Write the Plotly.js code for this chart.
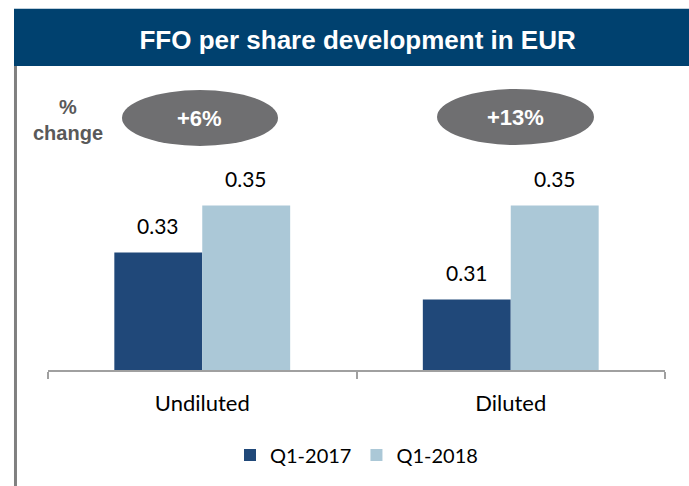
<!DOCTYPE html>
<html>
<head>
<meta charset="utf-8">
<script src="https://cdn.plot.ly/plotly-3.0.1.min.js"></script>
<style>html,body{margin:0;padding:0;background:#fff;}#chart{width:689px;height:486px;}</style>
</head>
<body>
<div id="chart"></div>
<script>
var categories = ["Undiluted", "Diluted"];
var seriesNames = ["Q1-2017", "Q1-2018"];
var q1_2017 = [0.33, 0.31];
var q1_2018 = [0.35, 0.35];
var changeLabels = ["+6%", "+13%"];
var titleText = "FFO per share development in EUR";
var changeTitle = "%<br>change";

var colors = ["#204879", "#abc8d7"];
var fontFamily = "Lato, 'Open Sans', sans-serif";
var labelFont = {family: fontFamily, size: 21, color: "#000"};

var traces = [
  {type: "bar", name: seriesNames[0], x: categories, y: q1_2017, marker: {color: colors[0]}, hoverinfo: "none"},
  {type: "bar", name: seriesNames[1], x: categories, y: q1_2018, marker: {color: colors[1]}, hoverinfo: "none"}
];

var annotations = [];
var series = [q1_2017, q1_2018];
var shifts = [-44, 44];
series.forEach(function (vals, s) {
  vals.forEach(function (v, i) {
    annotations.push({
      xref: "x", yref: "y", x: categories[i], y: v, xshift: shifts[s], yshift: 13,
      text: v.toFixed(2), showarrow: false, yanchor: "bottom", xanchor: "center",
      font: labelFont
    });
  });
});

var ellipseX = [[0.1199, 0.3728], [0.6305, 0.8849]];
var ellipseY = [[1.0667, 1.3333], [1.0714, 1.3381]];
var shapes = [
  {type: "rect", xref: "paper", yref: "paper", x0: -0.0551, x1: 1.05, y0: 1.4476, y1: 1.72,
   fillcolor: "#00416f", line: {width: 0}, layer: "below"},
  {type: "line", xref: "paper", yref: "paper", x0: -0.0527, x1: -0.0527, y0: 1.4476, y1: -0.56,
   line: {color: "#808080", width: 3}}
];
changeLabels.forEach(function (lbl, i) {
  shapes.push({type: "circle", xref: "paper", yref: "paper",
    x0: ellipseX[i][0], x1: ellipseX[i][1], y0: ellipseY[i][0], y1: ellipseY[i][1],
    fillcolor: "#6f6f71", line: {width: 0}});
  annotations.push({xref: "paper", yref: "paper",
    x: (ellipseX[i][0] + ellipseX[i][1]) / 2, y: (ellipseY[i][0] + ellipseY[i][1]) / 2,
    text: "<b>" + lbl + "</b>", showarrow: false, xanchor: "center", yanchor: "middle",
    font: {family: "'Liberation Sans', Arial, sans-serif", size: 22, color: "#ffffff"}});
});
annotations.push({xref: "paper", yref: "paper", x: 0.0324, y: 1.19, text: "<b>" + changeTitle + "</b>",
  showarrow: false, xanchor: "center", yanchor: "middle", align: "center",
  font: {family: "'Liberation Sans', Arial, sans-serif", size: 20, color: "#595959"}});

var layout = {
  width: 689, height: 486,
  margin: {l: 48, r: 24, t: 160, b: 116, pad: 0},
  paper_bgcolor: "#ffffff", plot_bgcolor: "#ffffff",
  title: {text: "<b>" + titleText + "</b>", x: 0.519, xanchor: "center", y: 0.918, yanchor: "middle",
    xref: "container", yref: "container",
    font: {family: "'Liberation Sans', Arial, sans-serif", size: 26, color: "#ffffff"}},
  barmode: "group", bargap: 0.43, bargroupgap: 0,
  xaxis: {type: "category", showline: true, linecolor: "#a0a0a0", linewidth: 2,
    ticks: "outside", tickson: "boundaries", ticklen: 7, tickcolor: "#a0a0a0", tickwidth: 2,
    ticklabelstandoff: 13, showgrid: false, zeroline: false,
    tickfont: {family: fontFamily, size: 22, color: "#000"}, fixedrange: true},
  yaxis: {range: [0.28, 0.3694], visible: false, showgrid: false, zeroline: false, fixedrange: true},
  showlegend: true,
  legend: {orientation: "h", x: 0.5, xanchor: "center", y: -0.405, yanchor: "middle",
    font: {family: fontFamily, size: 20, color: "#000"}, itemwidth: 30, traceorder: "normal"},
  shapes: shapes,
  annotations: annotations
};

Plotly.newPlot("chart", traces, layout, {displayModeBar: false, staticPlot: true});
</script>
</body>
</html>
